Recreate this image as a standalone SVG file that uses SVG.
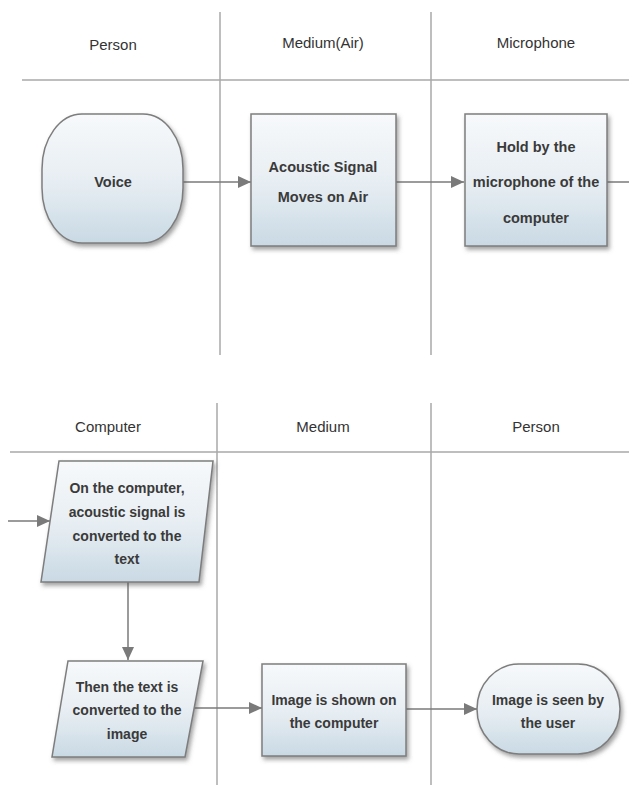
<svg xmlns="http://www.w3.org/2000/svg" width="629" height="785" viewBox="0 0 629 785">
<defs>
<linearGradient id="fillG" x1="0" y1="0" x2="0" y2="1">
<stop offset="0" stop-color="#f7f9fb"/>
<stop offset="0.55" stop-color="#e6edf2"/>
<stop offset="1" stop-color="#c9d9e4"/>
</linearGradient>
<filter id="sh" x="-10%" y="-10%" width="125%" height="130%">
<feDropShadow dx="2" dy="3" stdDeviation="2" flood-color="#555" flood-opacity="0.55"/>
</filter>
<marker id="arr" viewBox="0 0 13 12" refX="13" refY="6" markerWidth="13" markerHeight="12" markerUnits="userSpaceOnUse" orient="auto">
<path d="M0,0 L13,6 L0,12 Z" fill="#7a7a7a"/>
</marker>
</defs>
<style>
.lane{stroke:#a8a8a8;stroke-width:1.5;fill:none}
.hdr{font-family:"Liberation Sans",Arial,sans-serif;font-size:15px;fill:#333333;text-anchor:middle}
.shape{fill:url(#fillG);stroke:#7d7d7d;stroke-width:1.5;filter:url(#sh)}
.lbl{font-family:"Liberation Sans",Arial,sans-serif;font-size:14px;font-weight:bold;fill:#3a3a3a;text-anchor:middle}
.big{font-size:14.5px}
.conn{stroke:#7a7a7a;stroke-width:1.5;fill:none}
</style>
<rect width="629" height="785" fill="#ffffff"/>
<g id="lanes">
<line class="lane" x1="22" y1="80" x2="629" y2="80"/>
<line class="lane" x1="220" y1="12" x2="220" y2="355"/>
<line class="lane" x1="431" y1="12" x2="431" y2="355"/>
<line class="lane" x1="10" y1="452" x2="629" y2="452"/>
<line class="lane" x1="217" y1="403" x2="217" y2="785"/>
<line class="lane" x1="431" y1="403" x2="431" y2="785"/>
<text class="hdr" x="113" y="50">Person</text>
<text class="hdr" x="323" y="48">Medium(Air)</text>
<text class="hdr" x="536" y="48">Microphone</text>
<text class="hdr" x="108" y="432">Computer</text>
<text class="hdr" x="323" y="432">Medium</text>
<text class="hdr" x="536" y="432">Person</text>
</g>
<g id="connectors">
<line class="conn" x1="183" y1="182" x2="251" y2="182" marker-end="url(#arr)"/>
<line class="conn" x1="396" y1="182" x2="464" y2="182" marker-end="url(#arr)"/>
<line class="conn" x1="607" y1="182" x2="629" y2="182"/>
<line class="conn" x1="8" y1="521" x2="50" y2="521" marker-end="url(#arr)"/>
<line class="conn" x1="128" y1="582" x2="128" y2="660" marker-end="url(#arr)"/>
<line class="conn" x1="193" y1="708" x2="262" y2="708" marker-end="url(#arr)"/>
<line class="conn" x1="406" y1="709" x2="477" y2="709" marker-end="url(#arr)"/>
</g>
<g id="voice">
<rect class="shape" x="42" y="114" width="141" height="129" rx="40" ry="55"/>
<text class="lbl big" x="113" y="187">Voice</text>
</g>
<g id="acoustic">
<rect class="shape" x="251" y="114" width="145" height="132"/>
<text class="lbl big" x="323" y="172">Acoustic Signal</text>
<text class="lbl big" x="323" y="202">Moves on Air</text>
</g>
<g id="microphone">
<rect class="shape" x="465" y="114" width="142" height="132"/>
<text class="lbl big" x="536" y="152">Hold by the</text>
<text class="lbl big" x="536" y="187">microphone of the</text>
<text class="lbl big" x="536" y="223">computer</text>
</g>
<g id="convert-text">
<polygon class="shape" points="59,461 213,461 199,582 41,582"/>
<text class="lbl" x="127" y="493">On the computer,</text>
<text class="lbl" x="127" y="517">acoustic signal is</text>
<text class="lbl" x="127" y="541">converted to the</text>
<text class="lbl" x="127" y="564">text</text>
</g>
<g id="convert-image">
<polygon class="shape" points="68,661 203,661 185,757 52,757"/>
<text class="lbl" x="127" y="692">Then the text is</text>
<text class="lbl" x="127" y="715">converted to the</text>
<text class="lbl" x="127" y="739">image</text>
</g>
<g id="shown">
<rect class="shape" x="262" y="664" width="144" height="92"/>
<text class="lbl" x="334" y="705">Image is shown on</text>
<text class="lbl" x="334" y="728">the computer</text>
</g>
<g id="seen">
<rect class="shape" x="477" y="664" width="143" height="90" rx="42" ry="45"/>
<text class="lbl" x="548" y="705">Image is seen by</text>
<text class="lbl" x="548" y="728">the user</text>
</g>
</svg>
